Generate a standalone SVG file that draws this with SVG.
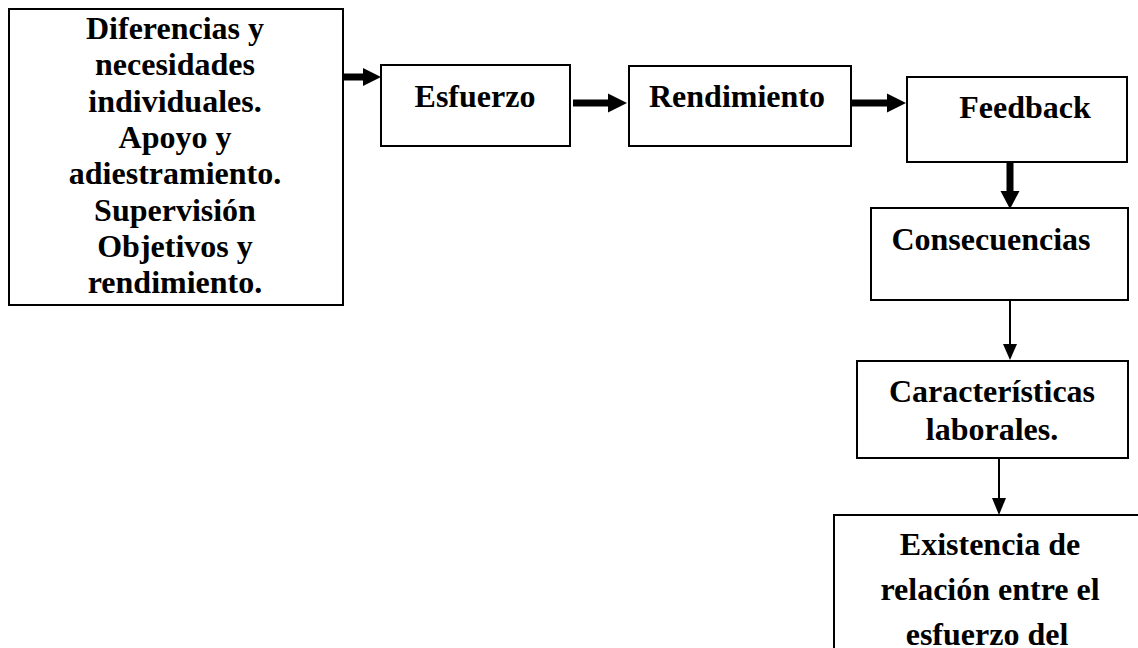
<svg xmlns="http://www.w3.org/2000/svg" width="1138" height="648" viewBox="0 0 1138 648">
<style>
.box{fill:#fff;stroke:#000;stroke-width:2}
.t{font-family:"Liberation Serif","Times New Roman",serif;font-weight:bold;font-size:32px;fill:#000;text-anchor:middle}
.thick{stroke:#000;stroke-width:7;fill:none}
.thin{stroke:#000;stroke-width:2;fill:none}
.head{fill:#000}
</style>
<rect width="1138" height="648" fill="#fff"/>
<g id="connectors">
<line class="thick" x1="343" y1="77" x2="366" y2="77"/><polygon class="head" points="381,77 363,68 363,86"/>
<line class="thick" x1="573" y1="103" x2="610" y2="103"/><polygon class="head" points="627,103 608,93.5 608,112.5"/>
<line class="thick" x1="852" y1="103" x2="889" y2="103"/><polygon class="head" points="906,103 887,93.5 887,112.5"/>
<line class="thick" x1="1010" y1="162" x2="1010" y2="193"/><polygon class="head" points="1010,209 1000.5,191 1019.5,191"/>
<line class="thin" x1="1010" y1="300" x2="1010" y2="346"/><polygon class="head" points="1010,360 1003,344 1017,344"/>
<line class="thin" x1="999" y1="458" x2="999" y2="500"/><polygon class="head" points="999,515 992,498 1006,498"/>
</g>
<g id="n1">
<rect class="box" x="9" y="9" width="334" height="296"/>
<text class="t" x="175" y="39">Diferencias y</text>
<text class="t" x="175" y="75.3">necesidades</text>
<text class="t" x="175" y="111.6">individuales.</text>
<text class="t" x="175" y="147.9">Apoyo y</text>
<text class="t" x="175" y="184.2">adiestramiento.</text>
<text class="t" x="175" y="220.5">Supervisión</text>
<text class="t" x="175" y="256.8">Objetivos y</text>
<text class="t" x="175" y="293.1">rendimiento.</text>
</g>
<g id="n2">
<rect class="box" x="381" y="65" width="189" height="81"/>
<text class="t" x="475" y="107">Esfuerzo</text>
</g>
<g id="n3">
<rect class="box" x="629" y="66" width="222" height="80"/>
<text class="t" x="737" y="107">Rendimiento</text>
</g>
<g id="n4">
<rect class="box" x="907" y="77" width="220" height="85"/>
<text class="t" x="1025" y="118">Feedback</text>
</g>
<g id="n5">
<rect class="box" x="871" y="208" width="257" height="92"/>
<text class="t" x="991" y="250">Consecuencias</text>
</g>
<g id="n6">
<rect class="box" x="857" y="361" width="271" height="97"/>
<text class="t" x="992" y="402">Características</text>
<text class="t" x="992" y="440">laborales.</text>
</g>
<g id="n7">
<path class="box" d="M834,660 V515 H1150"/>
<text class="t" x="990" y="555">Existencia de</text>
<text class="t" x="990" y="600">relación entre el</text>
<text class="t" x="987" y="645">esfuerzo del</text>
</g>
</svg>
